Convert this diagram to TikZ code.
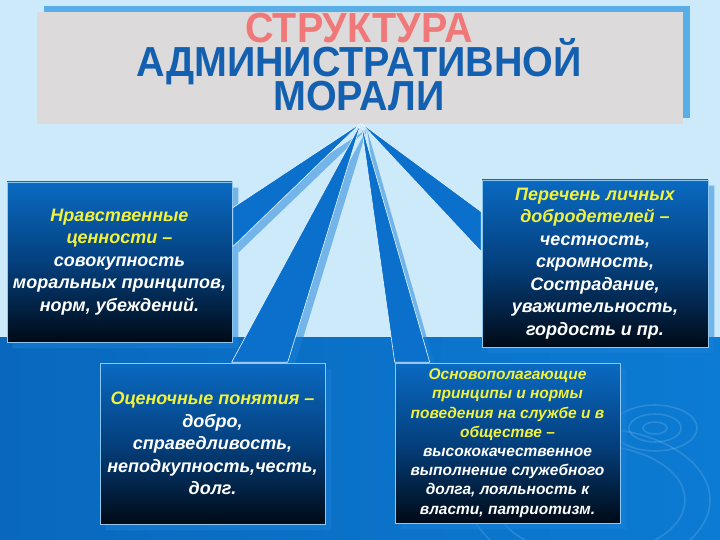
\documentclass[tikz,border=0pt]{standalone}
\usepackage{fontspec}
\setmainfont{Liberation Sans}
\newfontfamily\titlefont[FakeStretch=0.94]{Liberation Sans Bold}
\usetikzlibrary{calc}
\pgfdeclarelayer{back}
\pgfdeclarelayer{mid}
\pgfsetlayers{back,mid,main}
\definecolor{skyb}{HTML}{CDEAFB}
\definecolor{bandA}{HTML}{0968BD}
\definecolor{bandB}{HTML}{0C7BD3}
\definecolor{titlegray}{HTML}{DCDADA}
\definecolor{titleshadow}{HTML}{5AAEE8}
\definecolor{titlered}{HTML}{F07878}
\definecolor{titleblue}{HTML}{1460B0}
\definecolor{boxtop}{HTML}{0A6AC2}
\definecolor{boxmid}{HTML}{04407E}
\definecolor{boxbot}{HTML}{000A16}
\definecolor{boxline}{HTML}{8CC8F0}
\definecolor{wedgeblue}{HTML}{0A70CC}
\definecolor{wedgeline}{HTML}{E8F6FF}
\definecolor{shadowfill}{HTML}{1A80D8}
\definecolor{yl}{HTML}{F2F23C}
\begin{document}
\setlength{\lineskiplimit}{-100pt}
\begin{tikzpicture}[x=1pt,y=-1pt,
  titlebox/.style={rectangle, fill=titlegray, minimum width=646pt, minimum height=112pt, inner sep=0pt},
  titletext/.style={align=center, text=titleblue, inner sep=0pt,
    font=\titlefont\fontsize{42}{34}\selectfont},
  infobox/.style={rectangle, inner sep=0pt, draw=boxline, line width=0.6pt,
    top color=boxtop, bottom color=boxbot, middle color=boxmid,
    text=white, align=center, font=\bfseries\itshape\fontsize{18}{22.5}\selectfont},
  smalltext/.style={font=\bfseries\itshape\fontsize{15.5}{19.2}\selectfont},
  wedge/.style={fill=wedgeblue, draw=wedgeline, line width=0.6pt, line join=round},
  ripple/.style={draw=white, opacity=0.13, line width=1.6pt}
]
\useasboundingbox (0,0) rectangle (720,540);

% title
\node[titlebox] (titlebox) at (360,68) {};
\node[titletext] (title) at (359,62.5) {\textcolor{titlered}{СТРУКТУРА}\\АДМИНИСТРАТИВНОЙ\\МОРАЛИ};

% boxes
\node[infobox, minimum width=225pt, minimum height=160pt] (b1) at (119.5,262)
  {\textcolor{yl}{Нравственные}\\\textcolor{yl}{ценности –}\\совокупность\\моральных принципов,\\норм, убеждений.};
\node[infobox, minimum width=226pt, minimum height=167pt] (b2) at (595,263.5)
  {\textcolor{yl}{Перечень личных}\\\textcolor{yl}{добродетелей –}\\честность,\\скромность,\\Сострадание,\\уважительность,\\гордость и пр.};
\node[infobox, minimum width=225pt, minimum height=161pt] (b3) at (212.5,443.5)
  {\textcolor{yl}{Оценочные понятия –}\\добро,\\справедливость,\\неподкупность,честь,\\долг.};
\node[infobox, smalltext, minimum width=225pt, minimum height=160pt] (b4) at (507.5,443)
  {\textcolor{yl}{Основополагающие}\\\textcolor{yl}{принципы и нормы}\\\textcolor{yl}{поведения на службе и в}\\\textcolor{yl}{обществе –}\\высококачественное\\выполнение служебного\\долга, лояльность к\\власти, патриотизм.};

\coordinate (apex) at (361,123);

% wedges (callout pointers)
\filldraw[wedge] (apex) -- ($(b1.north east)+(0.5,26)$) -- ($(b1.north east)+(0.5,65)$) -- cycle;
\filldraw[wedge] (apex) -- ($(b2.north west)+(-0.5,32)$) -- ($(b2.north west)+(-0.5,72)$) -- cycle;
\filldraw[wedge] (apex) -- ($(b3.north west)+(132,-0.5)$) -- ($(b3.north west)+(188,-0.5)$) -- cycle;
\filldraw[wedge] (apex) -- ($(b4.north west)+(0,-0.5)$) -- ($(b4.north west)+(35,-0.5)$) -- cycle;

% shadows
\begin{pgfonlayer}{mid}
\begin{scope}[transparency group, opacity=0.5]
\fill[shadowfill] ($(b1.north west)+(6,6)$) rectangle ($(b1.south east)+(6,6)$);
\fill[shadowfill] ($(b2.north west)+(6,6)$) rectangle ($(b2.south east)+(6,6)$);
\fill[shadowfill] ($(b3.north west)+(6,6)$) rectangle ($(b3.south east)+(6,6)$);
\fill[shadowfill] ($(b4.north west)+(6,6)$) rectangle ($(b4.south east)+(6,6)$);
\fill[shadowfill] ($(apex)+(6,6)$) -- ($(b1.north east)+(6,32)$) -- ($(b1.north east)+(6,71)$) -- cycle;
\fill[shadowfill] ($(apex)+(6,6)$) -- ($(b2.north west)+(6,38)$) -- ($(b2.north west)+(6,78)$) -- cycle;
\fill[shadowfill] ($(apex)+(6,6)$) -- ($(b3.north west)+(138,6)$) -- ($(b3.north west)+(194,6)$) -- cycle;
\fill[shadowfill] ($(apex)+(6,6)$) -- ($(b4.north west)+(6,6)$) -- ($(b4.north west)+(41,6)$) -- cycle;
\end{scope}
\end{pgfonlayer}

% background
\begin{pgfonlayer}{back}
\fill[skyb] (0,0) rectangle (720,540);
\fill[left color=bandA, right color=bandB] (0,337) rectangle (720,540);
\draw[ripple] (655,428) ellipse [x radius=12pt, y radius=6pt];
\draw[ripple] (655,428) ellipse [x radius=26pt, y radius=14pt];
\draw[ripple] (655,428) ellipse [x radius=42pt, y radius=23pt];
\draw[ripple] (590,500) ellipse [x radius=95pt, y radius=55pt];
\draw[ripple] (590,500) ellipse [x radius=120pt, y radius=72pt];
\fill[titleshadow] ($(titlebox.north west)+(7,-6)$) rectangle ($(titlebox.south east)+(7,-6)$);
\end{pgfonlayer}
\end{tikzpicture}
\end{document}
